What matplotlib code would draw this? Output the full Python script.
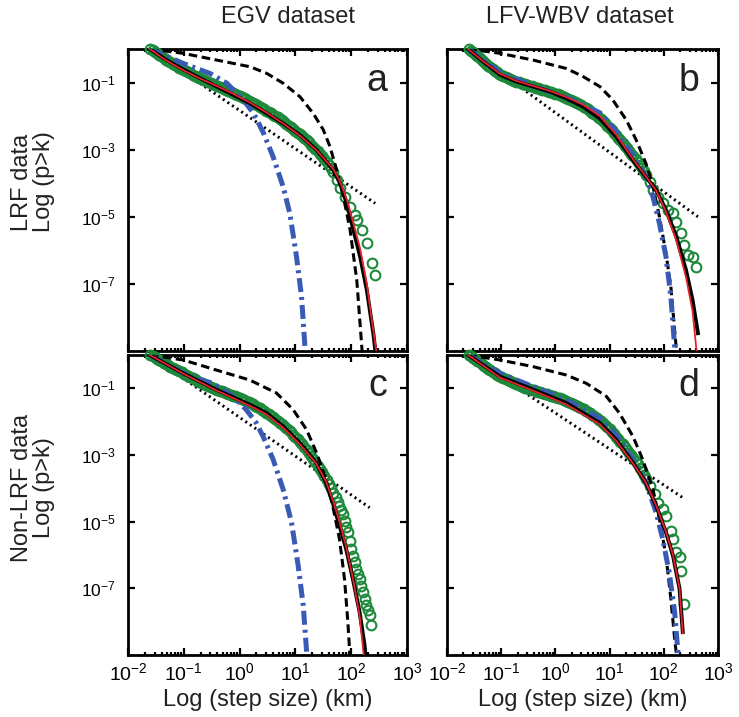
import numpy as np
import matplotlib
matplotlib.use("Agg")
import matplotlib.pyplot as plt
from matplotlib.ticker import FixedLocator, LogLocator, NullLocator, NullFormatter

plt.rcParams["font.family"] = ["Liberation Sans", "DejaVu Sans"]
plt.rcParams["mathtext.fontset"] = "custom"
plt.rcParams["mathtext.rm"] = "Liberation Sans"
plt.rcParams["mathtext.default"] = "regular"

# all curve values are log10 exponents
# x positions where the dense band of green circles was read (same for every panel)
band_x = [-1.6, -1.56, -1.52, -1.48, -1.44, -1.4, -1.36, -1.32, -1.28, -1.24, -1.2, -1.16, -1.12,
          -1.08, -1.04, -1.0, -0.96, -0.92, -0.88, -0.84, -0.8, -0.76, -0.72, -0.68, -0.64, -0.6,
          -0.56, -0.52, -0.48, -0.44, -0.4, -0.36, -0.32, -0.28, -0.24, -0.2, -0.16, -0.12, -0.08,
          -0.04, 0.0, 0.04, 0.08, 0.12, 0.16, 0.2, 0.24, 0.28, 0.32, 0.36, 0.4, 0.44, 0.48, 0.52,
          0.56, 0.6, 0.64, 0.68, 0.72, 0.76, 0.8, 0.84, 0.88, 0.92, 0.96, 1.0, 1.04, 1.08, 1.12,
          1.16, 1.2, 1.24, 1.28, 1.32, 1.36, 1.4, 1.44, 1.48, 1.52, 1.56, 1.6, 1.64, 1.68]

# ---- panel a : EGV, LRF ----
band_y_a = [0.0, -0.04, -0.08, -0.12, -0.17, -0.22, -0.27, -0.32, -0.36, -0.40,
            -0.44, -0.48, -0.52, -0.56, -0.59, -0.63, -0.66, -0.70, -0.73, -0.77,
            -0.80, -0.83, -0.86, -0.89, -0.92, -0.95, -0.98, -1.01, -1.04, -1.07,
            -1.10, -1.13, -1.16, -1.19, -1.22, -1.25, -1.28, -1.31, -1.34, -1.37,
            -1.40, -1.43, -1.47, -1.50, -1.54, -1.57, -1.61, -1.64, -1.68, -1.72,
            -1.76, -1.80, -1.84, -1.88, -1.92, -1.96, -2.00, -2.04, -2.09, -2.13,
            -2.18, -2.23, -2.28, -2.33, -2.38, -2.43, -2.49, -2.54, -2.60, -2.66,
            -2.72, -2.78, -2.85, -2.91, -2.98, -3.05, -3.12, -3.20, -3.28, -3.37,
            -3.46, -3.56, -3.66]
tail_x_a = [1.74, 1.80, 1.89, 1.98, 2.07, 2.10, 2.19, 2.28, 2.37, 2.43]
tail_y_a = [-3.90, -4.15, -4.40, -4.70, -4.95, -5.10, -5.40, -5.79, -6.39, -6.74]
black_x_a = [-1.61, -1.31, -1.0, -0.71, -0.41, -0.11, 0.19, 0.49, 0.78, 1.08, 1.38, 1.68, 1.80, 1.92,
             2.04, 2.16, 2.28, 2.40, 2.44]
black_y_a = [0.0, -0.33, -0.62, -0.87, -1.12, -1.37, -1.62, -1.92, -2.22, -2.56, -3.01, -3.61, -4.00,
             -4.60, -5.39, -6.19, -7.18, -8.52, -9.1]
red_x_a = [-1.61, -1.31, -1.0, -0.71, -0.41, -0.11, 0.19, 0.49, 0.78, 1.08, 1.38, 1.68, 1.80, 1.92,
           2.04, 2.16, 2.28, 2.37, 2.46]
red_y_a = [0.0, -0.35, -0.64, -0.88, -1.10, -1.34, -1.60, -1.90, -2.22, -2.58, -3.02, -3.58, -3.95,
           -4.48, -5.20, -5.95, -7.00, -8.10, -9.1]
dash_x_a = [-1.61, -1.01, -0.41, 0.19, 0.49, 0.78, 1.08, 1.32, 1.50, 1.62, 1.74, 1.86, 1.98, 2.10, 2.20]
dash_y_a = [0.0, -0.13, -0.33, -0.53, -0.73, -1.02, -1.42, -1.92, -2.41, -2.91, -3.61, -4.40, -5.39,
            -6.89, -9.1]
blue_x_a = [-1.61, -1.01, -0.53, -0.23, 0.07, 0.25, 0.43, 0.60, 0.78, 0.90, 1.02, 1.11, 1.18]
blue_y_a = [0.0, -0.43, -0.73, -1.02, -1.52, -1.92, -2.51, -3.21, -4.10, -4.90, -6.19, -7.38, -9.1]
dot_x_a = [-1.61, 2.43]
dot_y_a = [0.0, -4.6]

# ---- panel b : LFV-WBV, LRF ----
band_y_b = [0.0, -0.05, -0.10, -0.16, -0.22, -0.28, -0.34, -0.40, -0.45, -0.50,
            -0.55, -0.60, -0.65, -0.70, -0.74, -0.78, -0.81, -0.84, -0.87, -0.90,
            -0.92, -0.95, -0.97, -0.99, -1.01, -1.03, -1.05, -1.07, -1.09, -1.11,
            -1.13, -1.15, -1.17, -1.19, -1.21, -1.23, -1.25, -1.27, -1.29, -1.31,
            -1.33, -1.35, -1.38, -1.40, -1.43, -1.46, -1.49, -1.52, -1.55, -1.58,
            -1.61, -1.64, -1.68, -1.72, -1.76, -1.80, -1.85, -1.90, -1.95, -2.00,
            -2.05, -2.10, -2.16, -2.22, -2.28, -2.35, -2.42, -2.49, -2.56, -2.64,
            -2.72, -2.80, -2.88, -2.96, -3.04, -3.12, -3.20, -3.29, -3.38, -3.47,
            -3.56, -3.65, -3.75]
tail_x_b = [1.74, 1.80, 1.89, 1.98, 2.07, 2.17, 2.23, 2.32, 2.38, 2.44, 2.53, 2.60]
tail_y_b = [-3.95, -4.20, -4.40, -4.60, -4.80, -4.90, -5.15, -5.49, -5.84, -6.14, -6.19, -6.49]
black_x_b = [-1.61, -1.33, -1.02, -0.72, -0.41, -0.10, 0.20, 0.51, 0.82, 1.12, 1.43, 1.67, 1.86, 2.04,
             2.23, 2.41, 2.53, 2.63]
black_y_b = [0.0, -0.38, -0.77, -0.97, -1.12, -1.27, -1.47, -1.72, -2.07, -2.61, -3.31, -3.81, -4.20,
             -4.80, -5.59, -6.59, -7.48, -8.47]
red_x_b = [-1.61, -1.33, -1.02, -0.72, -0.41, -0.10, 0.20, 0.51, 0.82, 1.12, 1.43, 1.67, 1.86, 2.04,
           2.23, 2.41, 2.53, 2.61]
red_y_b = [0.0, -0.37, -0.74, -0.95, -1.10, -1.25, -1.43, -1.66, -2.00, -2.55, -3.28, -3.80, -4.22,
           -4.85, -5.70, -6.80, -7.80, -9.1]
dash_x_b = [-1.61, -1.02, -0.41, 0.20, 0.51, 0.82, 1.06, 1.31, 1.49, 1.67, 1.80, 1.92, 2.04, 2.13,
            2.20, 2.24]
dash_y_b = [0.0, -0.13, -0.33, -0.58, -0.82, -1.12, -1.52, -2.12, -2.71, -3.41, -4.10, -5.00, -6.09,
            -7.08, -8.38, -9.1]
blue_x_b = [-1.61, -1.02, -0.41, 0.20, 0.82, 1.12, 1.43, 1.67, 1.80, 1.92, 2.04, 2.13, 2.21]
blue_y_b = [0.0, -0.70, -1.10, -1.44, -1.90, -2.45, -3.17, -3.81, -4.40, -5.20, -6.19, -7.38, -9.1]
dot_x_b = [-1.61, 2.63]
dot_y_b = [0.0, -5.0]

# ---- panel c : EGV, non-LRF ----
band_y_c = [0.0, -0.03, -0.07, -0.11, -0.15, -0.19, -0.23, -0.27, -0.31, -0.35,
            -0.38, -0.42, -0.45, -0.49, -0.52, -0.56, -0.59, -0.63, -0.66, -0.70,
            -0.73, -0.77, -0.80, -0.83, -0.86, -0.89, -0.92, -0.95, -0.98, -1.01,
            -1.04, -1.07, -1.09, -1.12, -1.14, -1.17, -1.19, -1.22, -1.24, -1.27,
            -1.29, -1.32, -1.35, -1.38, -1.41, -1.45, -1.48, -1.52, -1.56, -1.60,
            -1.64, -1.68, -1.73, -1.77, -1.82, -1.87, -1.92, -1.97, -2.03, -2.08,
            -2.14, -2.20, -2.26, -2.32, -2.39, -2.46, -2.53, -2.60, -2.68, -2.76,
            -2.84, -2.93, -3.02, -3.12, -3.22, -3.32, -3.42, -3.52, -3.62, -3.74,
            -3.87, -4.00, -4.13]
tail_x_c = [1.72, 1.76, 1.79, 1.82, 1.85, 1.88, 1.91, 1.94, 1.97, 2.00, 2.03, 2.06, 2.09, 2.12, 2.15,
            2.18, 2.21, 2.24, 2.27, 2.30, 2.33, 2.36]
tail_y_c = [-4.26, -4.42, -4.53, -4.66, -4.78, -4.98, -5.15, -5.32, -5.57, -5.82, -6.02, -6.22, -6.42,
            -6.57, -6.72, -6.92, -7.11, -7.31, -7.51, -7.66, -7.81, -8.11]
black_x_c = [-1.61, -1.01, -0.42, 0.18, 0.48, 0.78, 1.08, 1.37, 1.55, 1.67, 1.79, 1.91, 2.03, 2.15,
             2.24, 2.26]
black_y_c = [0.0, -0.55, -1.04, -1.49, -1.74, -2.14, -2.64, -3.23, -3.83, -4.43, -5.12, -5.82, -6.72,
             -7.71, -8.71, -9.1]
red_x_c = [-1.61, -1.01, -0.42, 0.18, 0.48, 0.78, 1.08, 1.37, 1.55, 1.67, 1.79, 1.91, 2.03, 2.15, 2.23]
red_y_c = [0.0, -0.56, -1.06, -1.52, -1.78, -2.18, -2.68, -3.25, -3.80, -4.35, -5.00, -5.75, -6.70,
           -7.80, -9.1]
dash_x_c = [-1.61, -1.01, -0.42, 0.18, 0.66, 0.96, 1.20, 1.38, 1.55, 1.67, 1.79, 1.88, 1.94, 1.98]
dash_y_c = [0.0, -0.15, -0.45, -0.75, -1.14, -1.64, -2.24, -2.94, -3.73, -4.53, -5.52, -6.72, -8.01,
            -9.1]
blue_x_c = [-1.61, -0.89, -0.48, -0.12, 0.12, 0.30, 0.42, 0.60, 0.78, 0.93, 1.05, 1.14, 1.21]
blue_y_c = [0.0, -0.65, -0.85, -1.24, -1.64, -2.04, -2.44, -3.13, -4.03, -5.02, -6.32, -7.51, -9.1]
dot_x_c = [-1.61, 2.33]
dot_y_c = [0.0, -4.58]

# ---- panel d : LFV-WBV, non-LRF ----
band_y_d = [0.0, -0.04, -0.08, -0.12, -0.17, -0.22, -0.27, -0.32, -0.37, -0.42,
            -0.46, -0.51, -0.55, -0.59, -0.63, -0.67, -0.70, -0.73, -0.76, -0.79,
            -0.82, -0.85, -0.88, -0.91, -0.93, -0.96, -0.98, -1.00, -1.02, -1.04,
            -1.06, -1.08, -1.10, -1.12, -1.14, -1.16, -1.18, -1.20, -1.22, -1.24,
            -1.26, -1.28, -1.30, -1.32, -1.35, -1.37, -1.40, -1.43, -1.46, -1.49,
            -1.52, -1.55, -1.59, -1.63, -1.67, -1.71, -1.75, -1.79, -1.84, -1.89,
            -1.94, -1.99, -2.05, -2.11, -2.17, -2.23, -2.30, -2.37, -2.45, -2.52,
            -2.60, -2.68, -2.76, -2.84, -2.93, -3.01, -3.10, -3.19, -3.28, -3.38,
            -3.48, -3.60, -3.73]
tail_x_d = [1.74, 1.83, 1.89, 1.98, 2.04, 2.13, 2.17, 2.23, 2.29, 2.32, 2.38]
tail_y_d = [-3.93, -4.18, -4.43, -4.63, -4.83, -5.27, -5.52, -5.92, -6.07, -6.47, -7.46]
black_x_d = [-1.61, -1.02, -0.41, 0.20, 0.82, 1.12, 1.43, 1.67, 1.86, 2.04, 2.17, 2.29, 2.35]
black_y_d = [0.0, -0.65, -1.04, -1.44, -2.04, -2.54, -3.23, -3.83, -4.53, -5.32, -6.02, -7.01, -8.31]
red_x_d = [-1.61, -1.02, -0.41, 0.20, 0.82, 1.12, 1.43, 1.67, 1.86, 2.04, 2.17, 2.29, 2.35]
red_y_d = [0.0, -0.68, -1.07, -1.48, -2.08, -2.57, -3.25, -3.83, -4.52, -5.30, -6.00, -7.00, -8.35]
dash_x_d = [-1.61, -1.02, -0.41, 0.20, 0.57, 0.94, 1.18, 1.43, 1.61, 1.80, 1.92, 2.04, 2.13, 2.20, 2.24]
dash_y_d = [0.0, -0.15, -0.35, -0.60, -0.85, -1.24, -1.74, -2.44, -3.13, -4.03, -4.93, -6.02, -7.31,
            -8.51, -9.1]
blue_x_d = [-1.61, -1.02, -0.41, 0.20, 0.82, 1.12, 1.43, 1.67, 1.86, 1.98, 2.10, 2.20, 2.27]
blue_y_d = [0.0, -0.55, -0.95, -1.35, -1.90, -2.40, -3.15, -3.83, -4.73, -5.52, -6.52, -7.71, -9.1]
dot_x_d = [-1.61, 2.35]
dot_y_d = [0.0, -4.28]

col_titles = ["EGV dataset", "LFV-WBV dataset"]
row_labels = ["LRF data\nLog (p>k)", "Non-LRF data\nLog (p>k)"]
panel_letters = ["a", "b", "c", "d"]
xlabel = "Log (step size) (km)"
xtick_vals = [1e-2, 1e-1, 1e0, 1e1, 1e2, 1e3]
xtick_labels = ["10$^{-2}$", "10$^{-1}$", "10$^{0}$", "10$^{1}$", "10$^{2}$", "10$^{3}$"]
ytick_vals = [1e-1, 1e-3, 1e-5, 1e-7]
ytick_labels = ["10$^{-1}$", "10$^{-3}$", "10$^{-5}$", "10$^{-7}$"]

GREEN = "#1c8a3a"
BLUE = "#3a5bb5"
RED = "#e8232b"

panels = [
    (band_y_a, tail_x_a, tail_y_a, black_x_a, black_y_a, red_x_a, red_y_a, dash_x_a, dash_y_a,
     blue_x_a, blue_y_a, dot_x_a, dot_y_a),
    (band_y_b, tail_x_b, tail_y_b, black_x_b, black_y_b, red_x_b, red_y_b, dash_x_b, dash_y_b,
     blue_x_b, blue_y_b, dot_x_b, dot_y_b),
    (band_y_c, tail_x_c, tail_y_c, black_x_c, black_y_c, red_x_c, red_y_c, dash_x_c, dash_y_c,
     blue_x_c, blue_y_c, dot_x_c, dot_y_c),
    (band_y_d, tail_x_d, tail_y_d, black_x_d, black_y_d, red_x_d, red_y_d, dash_x_d, dash_y_d,
     blue_x_d, blue_y_d, dot_x_d, dot_y_d),
]

W, H = 739, 717
fig = plt.figure(figsize=(W / 100, H / 100), dpi=100)

# axes boxes in pixels: left, top, right, bottom
boxes = [(128, 49, 407, 351), (447, 49, 718, 351), (128, 355, 407, 655), (447, 355, 718, 655)]


def p(v):
    return 10 ** np.array(v)


for i, (box, data) in enumerate(zip(boxes, panels)):
    l, t, r, b = box
    ax = fig.add_axes([l / W, 1 - b / H, (r - l) / W, (b - t) / H])
    gy, tx, ty, kx, ky, rx, ry, dx, dy, bx, by, ox, oy = data

    ax.plot(p(ox), p(oy), color="black", lw=2.1, ls=(0, (0.7, 1.2)), zorder=2)
    ax.plot(p(band_x + tx), p(gy + ty), ls="none", marker="o", ms=7, mfc="none", mec=GREEN,
            mew=1.5, clip_on=False, zorder=3)
    ax.plot(p(dx), p(dy), color="black", lw=2.2, ls=(0, (2.8, 1.5)), zorder=4)
    ax.plot(p(bx), p(by), color=BLUE, lw=3.6, ls=(0, (2.8, 1.0, 0.6, 1.0)), zorder=5)
    ax.plot(p(kx), p(ky), color="black", lw=2.8, zorder=6)
    ax.plot(p(rx), p(ry), color=RED, lw=1.3, zorder=7)

    ax.set_xscale("log")
    ax.set_yscale("log")
    ax.set_xlim(1e-2, 1e3)
    ax.set_ylim(1e-9, 1e0)

    ax.xaxis.set_major_locator(FixedLocator(xtick_vals))
    ax.xaxis.set_minor_locator(LogLocator(base=10, subs=np.arange(2, 10)))
    ax.xaxis.set_minor_formatter(NullFormatter())
    ax.yaxis.set_major_locator(FixedLocator(ytick_vals))
    ax.yaxis.set_minor_locator(NullLocator())

    if i >= 2:
        ax.set_xticklabels(xtick_labels)
    else:
        ax.set_xticklabels([])
    if i % 2 == 0:
        ax.set_yticklabels(ytick_labels)
    else:
        ax.set_yticklabels([])

    ax.tick_params(which="both", direction="in", top=True, right=True, width=1.6)
    ax.tick_params(which="major", length=5)
    ax.tick_params(which="minor", length=2.5)
    ax.tick_params(axis="x", labelsize=14, pad=5)
    ax.tick_params(axis="y", labelsize=12.5, pad=9)
    for s in ax.spines.values():
        s.set_linewidth(2.0)

    ax.text(0.93, 0.895, panel_letters[i], transform=ax.transAxes, ha="right", va="center",
            fontsize=27, color="#222222")

fig.text(288 / W, 1 - 17 / H, col_titles[0], ha="center", va="center", fontsize=17, color="#222222")
fig.text(580 / W, 1 - 17 / H, col_titles[1], ha="center", va="center", fontsize=17, color="#222222")
fig.text(33 / W, 1 - 182 / H, row_labels[0], rotation=90, ha="center", va="center",
         multialignment="center", fontsize=17, linespacing=0.95, color="#222222")
fig.text(33 / W, 1 - 488 / H, row_labels[1], rotation=90, ha="center", va="center",
         multialignment="center", fontsize=17, linespacing=0.95, color="#222222")
fig.text(268 / W, 1 - 700 / H, xlabel, ha="center", va="center", fontsize=17, color="#222222")
fig.text(583 / W, 1 - 700 / H, xlabel, ha="center", va="center", fontsize=17, color="#222222")

fig.savefig("out.png", dpi=100)
